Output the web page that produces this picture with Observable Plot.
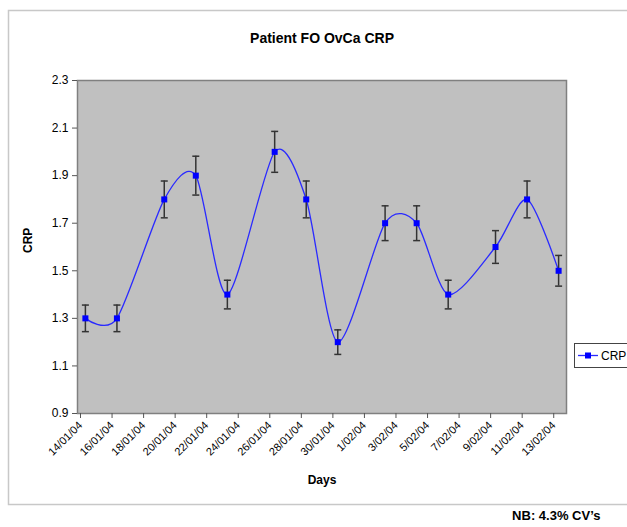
<!DOCTYPE html>
<html><head><meta charset="utf-8">
<script src="https://cdn.jsdelivr.net/npm/d3@7"></script>
<script src="https://cdn.jsdelivr.net/npm/@observablehq/plot@0.6"></script>
<style>body{margin:0;background:#fff} svg{display:block} #chart{width:627px;height:527px;overflow:hidden}</style>
</head><body><div id="chart"></div>
<script>
// ---- data ----
const dates = ["2004-01-14","2004-01-16","2004-01-19","2004-01-21","2004-01-23","2004-01-26","2004-01-28",
               "2004-01-30","2004-02-02","2004-02-04","2004-02-06","2004-02-09","2004-02-11","2004-02-13"];
const crp = [1.3, 1.3, 1.8, 1.9, 1.4, 2.0, 1.8, 1.2, 1.7, 1.7, 1.4, 1.6, 1.8, 1.5];
const cvPercent = 4.3;
const yTicks = [0.9, 1.1, 1.3, 1.5, 1.7, 1.9, 2.1, 2.3];
const xTickDates = ["2004-01-14","2004-01-16","2004-01-18","2004-01-20","2004-01-22","2004-01-24","2004-01-26",
                    "2004-01-28","2004-01-30","2004-02-01","2004-02-03","2004-02-05","2004-02-07","2004-02-09",
                    "2004-02-11","2004-02-13"];
const xDomain = ["2004-01-14", "2004-02-14"];
const seriesName = "CRP";
const titleText = "Patient FO OvCa CRP";
const xLabel = "Days";
const yLabel = "CRP";
const noteText = "NB: 4.3% CV\u2019s";

// ---- table ----
const table = dates.map((d, i) => ({date: new Date(d + "T12:00:00Z"), v: crp[i]}));
const cv = cvPercent / 100;
const font = "Liberation Sans, Arial, sans-serif";
const capSymbol = {draw(ctx, size) { const r = Math.sqrt(size / Math.PI); ctx.moveTo(-r, 0); ctx.lineTo(r, 0); }};

const chart = Plot.plot({
  width: 627, height: 527,
  marginLeft: 77, marginRight: 61, marginTop: 80, marginBottom: 114,
  style: {fontFamily: font, fontSize: "12px", color: "#000", background: "#fff"},
  x: {type: "utc", domain: xDomain.map(d => new Date(d + "T00:00:00Z"))},
  y: {domain: [0.9, 2.3]},
  marks: [
    Plot.frame({fill: "#c0c0c0", stroke: "#808080", strokeWidth: 1.5}),
    Plot.axisY({ticks: yTicks, tickFormat: d3.format(".1f"), tickSize: 5, tickPadding: 4, label: null, fontSize: 12, stroke: "#555"}),
    Plot.axisX({ticks: xTickDates.map(d => new Date(d + "T00:00:00Z")), tickFormat: d3.utcFormat("%-d/%m/%y"),
                tickRotate: -45, tickSize: 5, tickPadding: 5, label: null, fontSize: 11, stroke: "#555", dx: 3}),
    Plot.line(table, {x: "date", y: "v", curve: "cardinal", tension: 0.2, stroke: "#2a2aff", strokeWidth: 1.3}),
    Plot.ruleX(table, {x: "date", y1: d => d.v * (1 - cv), y2: d => d.v * (1 + cv), stroke: "#333", strokeWidth: 1.5}),
    Plot.dot(table, {x: "date", y: d => d.v * (1 - cv), symbol: capSymbol, r: 3.5, stroke: "#333", strokeWidth: 1.5}),
    Plot.dot(table, {x: "date", y: d => d.v * (1 + cv), symbol: capSymbol, r: 3.5, stroke: "#333", strokeWidth: 1.5}),
    Plot.dot(table, {x: "date", y: "v", symbol: "square", r: 3.4, fill: "#0000ff", stroke: null}),
    Plot.text([titleText], {frameAnchor: "top", dy: -47, fontWeight: "bold", fontSize: 14}),
    Plot.text([xLabel], {frameAnchor: "bottom", dy: 70, fontWeight: "bold", fontSize: 12}),
    Plot.text([yLabel], {frameAnchor: "left", dx: -49, dy: 6, rotate: -90, fontWeight: "bold", fontSize: 12}),
    Plot.text([noteText], {frameAnchor: "bottom-right", dx: 34, dy: 106, textAnchor: "end", fontWeight: "bold", fontSize: 13})
  ]
});

const svg = d3.select(chart);
// outer chart-area border
svg.insert("rect", ":first-child")
  .attr("x", 8.5).attr("y", 10.5).attr("width", 640).attr("height", 494)
  .attr("fill", "none").attr("stroke", "#c8c8c8").attr("stroke-width", 1.5);
// legend
const lg = svg.append("g").attr("font-family", font).attr("font-size", 12).attr("text-anchor", "start");
lg.append("rect").attr("x", 574.5).attr("y", 343.5).attr("width", 60).attr("height", 24)
  .attr("fill", "#fff").attr("stroke", "#444").attr("stroke-width", 1);
lg.append("line").attr("x1", 578).attr("x2", 598).attr("y1", 355.5).attr("y2", 355.5)
  .attr("stroke", "#2a2aff").attr("stroke-width", 1.3);
lg.append("rect").attr("x", 585).attr("y", 352.5).attr("width", 6).attr("height", 6).attr("fill", "#0000ff");
lg.append("text").attr("x", 601).attr("y", 360).attr("text-anchor", "start").text(seriesName);

document.getElementById("chart").appendChild(chart);
</script>
</body></html>
